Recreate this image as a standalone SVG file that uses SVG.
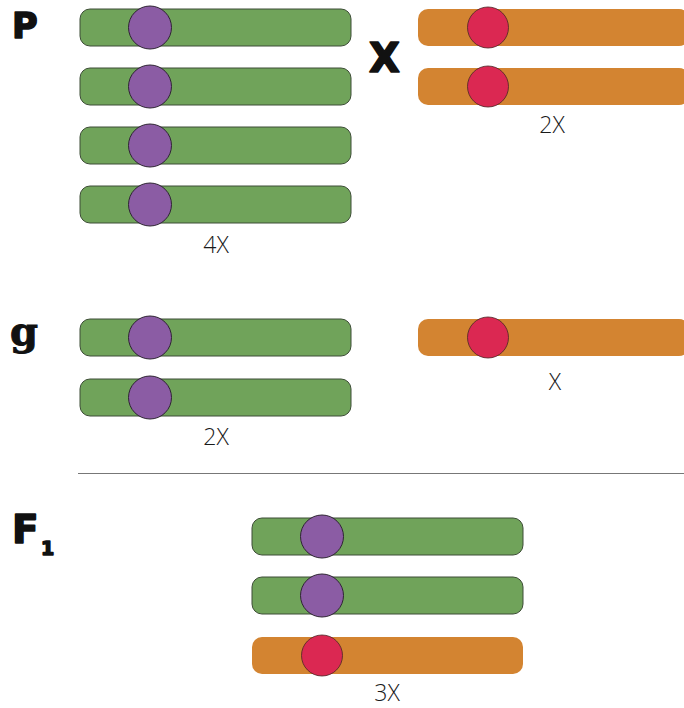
<svg xmlns="http://www.w3.org/2000/svg" xmlns:xlink="http://www.w3.org/1999/xlink" width="684" height="708" viewBox="0 0 684 708">
  <style>
    .gbar { fill: #70a35a; stroke: #3d4d36; stroke-width: 1; }
    .gcen { fill: #8b5ca4; stroke: #2e2433; stroke-width: 1; }
    .obar { fill: #d38431; }
    .ocen { fill: #db2852; stroke: #4a2424; stroke-width: 0.8; }
    .head { font-family: "DejaVu Sans", "Liberation Sans", sans-serif; font-weight: bold; fill: #111; stroke: #111; stroke-width: 1.6; stroke-linejoin: round; }
    .headg { font-family: "DejaVu Serif", "Liberation Serif", serif; font-weight: bold; fill: #111; stroke: #111; stroke-width: 1; }
    .count { font-family: "Open Sans", "Liberation Sans", sans-serif; font-size: 23px; font-weight: 300; fill: #1a1a1a; text-anchor: middle; }
  </style>
  <defs>
    <!-- green chromosome: two arms joined by a purple centromere -->
    <g id="green">
      <rect class="gbar" x="0" y="0" width="80" height="37" rx="10"/>
      <rect class="gbar" x="60" y="0" width="211" height="37" rx="10"/>
      <circle class="gcen" cx="70" cy="18.5" r="21.5"/>
    </g>
    <!-- orange chromosome with a red centromere -->
    <g id="orange">
      <rect class="obar" x="0" y="0" width="80" height="37" rx="10"/>
      <rect class="obar" x="60" y="0" width="211" height="37" rx="10"/>
      <circle class="ocen" cx="70" cy="18.5" r="20.5"/>
    </g>
  </defs>

  <!-- generation labels -->
  <text class="head" x="12" y="38" font-size="35">P</text>
  <text class="head" x="369" y="72" font-size="40">X</text>
  <text class="headg" x="10" y="345" font-size="40">g</text>
  <text class="head" x="12" y="543" font-size="39">F</text>
  <text class="head" x="41" y="555" font-size="19">1</text>

  <!-- parental generation -->
  <g id="p-green-1"><use xlink:href="#green" x="80" y="9"/></g>
  <g id="p-green-2"><use xlink:href="#green" x="80" y="68"/></g>
  <g id="p-green-3"><use xlink:href="#green" x="80" y="127"/></g>
  <g id="p-green-4"><use xlink:href="#green" x="80" y="186"/></g>
  <text class="count" x="216" y="253">4X</text>

  <g id="p-orange-1"><use xlink:href="#orange" x="418" y="9"/></g>
  <g id="p-orange-2"><use xlink:href="#orange" x="418" y="68"/></g>
  <text class="count" x="552" y="133">2X</text>

  <!-- gametes -->
  <g id="g-green-1"><use xlink:href="#green" x="80" y="319"/></g>
  <g id="g-green-2"><use xlink:href="#green" x="80" y="379"/></g>
  <text class="count" x="216" y="445">2X</text>

  <g id="g-orange-1"><use xlink:href="#orange" x="418" y="319"/></g>
  <text class="count" x="555" y="390">X</text>

  <!-- divider -->
  <line x1="78" y1="473.5" x2="684" y2="473.5" stroke="#777" stroke-width="1.2"/>

  <!-- F1 generation -->
  <g id="f1-green-1"><use xlink:href="#green" x="252" y="518"/></g>
  <g id="f1-green-2"><use xlink:href="#green" x="252" y="577"/></g>
  <g id="f1-orange-1"><use xlink:href="#orange" x="252" y="637"/></g>
  <text class="count" x="387" y="701">3X</text>
</svg>
